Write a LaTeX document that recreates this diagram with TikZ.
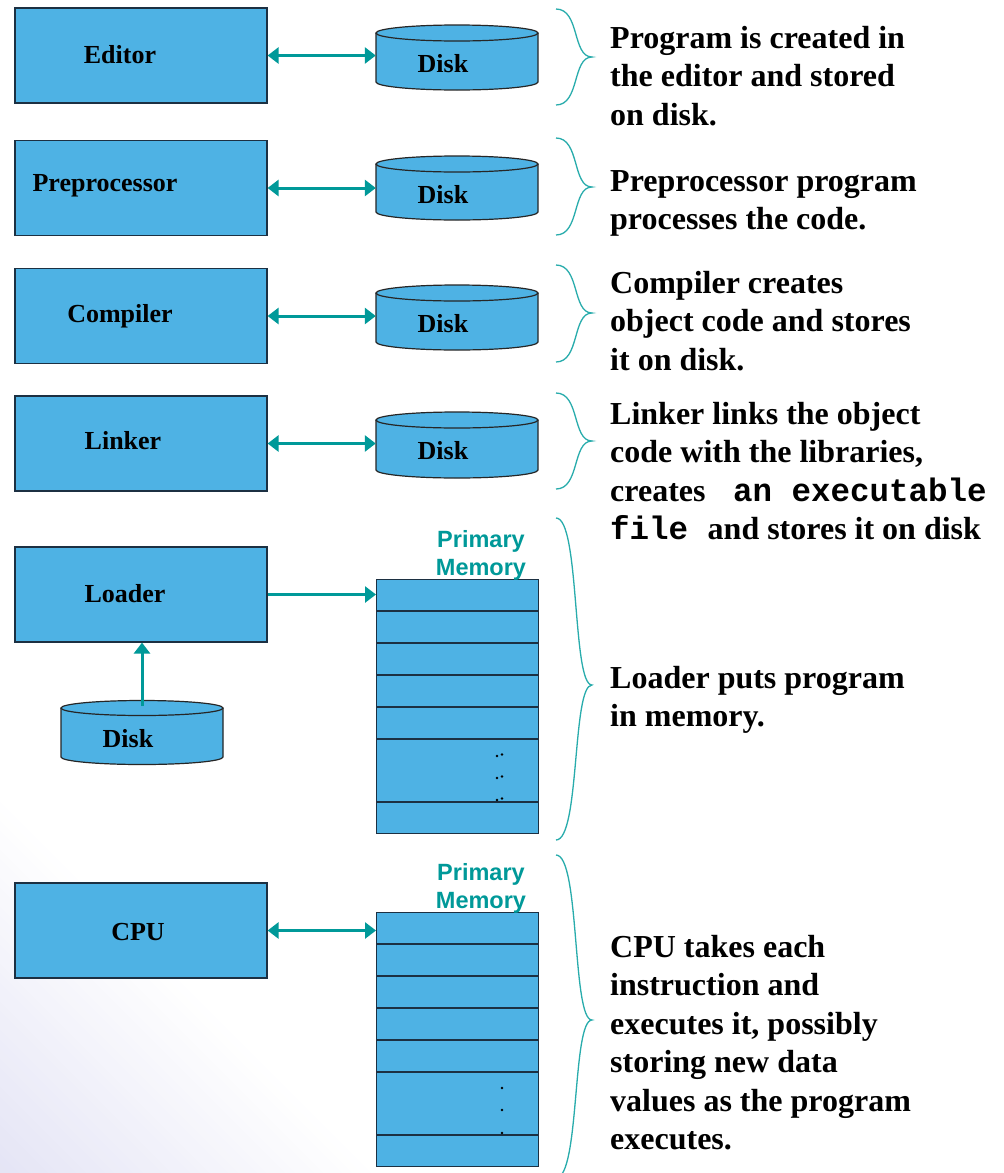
\documentclass[tikz,border=0pt]{standalone}
\usepackage{fontspec}
\setmainfont{Liberation Serif}
\newfontfamily\lsans{Liberation Sans}
\newfontfamily\lmono{Liberation Mono}
\usetikzlibrary{arrows.meta}
\definecolor{boxblue}{RGB}{78,178,228}
\definecolor{tealc}{RGB}{0,153,153}
\definecolor{bracecol}{RGB}{40,172,172}
\definecolor{edgec}{RGB}{28,48,66}
\definecolor{lav}{RGB}{228,228,245}
\newcommand\drawdisk[4]{%
  \fill[boxblue] (#1-81,#2) -- (#1-81,#3) .. controls (#1-81,#3+0.5523*#4) and (#1-44.74,#3+#4) .. (#1,#3+#4) .. controls (#1+44.74,#3+#4) and (#1+81,#3+0.5523*#4) .. (#1+81,#3) -- (#1+81,#2) -- cycle;
  \draw[diskline] (#1-81,#2) -- (#1-81,#3) .. controls (#1-81,#3+0.5523*#4) and (#1-44.74,#3+#4) .. (#1,#3+#4) .. controls (#1+44.74,#3+#4) and (#1+81,#3+0.5523*#4) .. (#1+81,#3) -- (#1+81,#2);
  \filldraw[diskline, fill=boxblue] (#1,#2) ellipse [x radius=81, y radius=#4];
}
\newcommand\curlybr[3]{%
  \draw[brc] (556,#1) .. controls (580,#1) and (572,#2) .. (592,#2) .. controls (572,#2) and (580,#3) .. (556,#3);
}
\tikzset{
  box/.style={draw=edgec, line width=1.2pt, fill=boxblue, minimum width=252pt, minimum height=95pt, inner sep=0},
  lbl/.style={font=\fontsize{26}{30}\selectfont\bfseries, inner sep=0},
  desc/.style={font=\fontsize{32}{38.5}\selectfont\bfseries, align=left, anchor=north west, inner sep=0},
  diskline/.style={draw=black!85, line width=1.2pt},
  hold/.style={inner sep=0, minimum width=162pt, minimum height=60pt},
  arr/.style={tealc, line width=3pt, -{Triangle[length=11pt,width=16pt]}},
  darr/.style={tealc, line width=3pt, {Triangle[length=11pt,width=16pt]}-{Triangle[length=11pt,width=16pt]}},
  pm/.style={font=\fontsize{23.5}{28}\selectfont\lsans\bfseries, text=tealc, align=center, inner sep=0},
  brc/.style={bracecol, line width=1.3pt},
  memst/.style={draw=edgec, line width=1.2pt, fill=boxblue, minimum width=162pt, inner sep=0, anchor=north west},
  memline/.style={edgec, line width=1.2pt},
  dot/.style={black}
}
\begin{document}
\begin{tikzpicture}[x=1pt,y=-1pt]
\useasboundingbox (0,0) rectangle (1004,1173);
\fill[white] (0,0) rectangle (1004,1173);
% background tint lower left
\foreach \i in {40,39,...,1}{
  \pgfmathsetmacro\dd{\i*9.5}
  \pgfmathsetmacro\pp{100-\i*2.5}
  \fill[lav!\pp!white] (0,1173) -- (0,1173-\dd) -- (\dd,1173) -- cycle;
}
% boxes
\node[box] (editor) at (141,55.5) {};
\node[box] (prep) at (141,188) {};
\node[box] (comp) at (141,316) {};
\node[box] (link) at (141,443.5) {};
\node[box] (load) at (141,594.5) {};
\node[box] (cpu) at (141,930.5) {};
\node[lbl] (editort) at (120,55) {Editor};
\node[lbl] (prept) at (105,186) {Preprocessor};
\node[lbl] (compt) at (120,316) {Compiler};
\node[lbl] (linkt) at (123,441) {Linker};
\node[lbl] (loadt) at (125,594) {Loader};
\node[lbl] (cput) at (138,932) {CPU};
% disks
\drawdisk{457}{33}{82}{8}
\drawdisk{457}{164}{212}{8}
\drawdisk{457}{293}{342}{8}
\drawdisk{457}{420}{470}{8}
\drawdisk{142}{708}{757}{7.5}
\node[hold] (d1) at (457,57) {};
\node[hold] (d2) at (457,188) {};
\node[hold] (d3) at (457,316) {};
\node[hold] (d4) at (457,443) {};
\coordinate (d5top) at (142,706);
\node[lbl] (d1t) at (443,63.5) {Disk};
\node[lbl] (d2t) at (443,194.5) {Disk};
\node[lbl] (d3t) at (443,323.5) {Disk};
\node[lbl] (d4t) at (443,450.5) {Disk};
\node[lbl] (d5t) at (128,738.5) {Disk};
% memories
\node[memst, minimum height=254pt] (mem1) at (376,579) {};
\foreach \yy in {611,643,675,707,739,802}
  \draw[memline] (376,\yy) -- (538,\yy);
\node[memst, minimum height=254pt] (mem2) at (376,912) {};
\foreach \yy in {944,976,1008,1040,1072,1135}
  \draw[memline] (376,\yy) -- (538,\yy);
\foreach \yy in {756,778,800}{
  \fill[dot] (497,\yy) circle (1.4pt);
  \fill[dot] (502,\yy-1.5) circle (1.4pt);
}
\foreach \yy in {1088,1110,1133}
  \fill[dot] (502,\yy) circle (1.4pt);
\node[pm] (pm1) at (481,555) {Primary\\Memory};
\node[pm] (pm2) at (481,888) {Primary\\Memory};
% arrows
\draw[darr] (editor.east) -- (editor.east -| d1.west);
\draw[darr] (prep.east) -- (prep.east -| d2.west);
\draw[darr] (comp.east) -- (comp.east -| d3.west);
\draw[darr] (link.east) -- (link.east -| d4.west);
\draw[arr] (load.east) -- (load.east -| mem1.west);
\draw[arr] (d5top) -- (d5top |- load.south);
\draw[darr] (cpu.east) -- (cpu.east -| mem2.west);
% braces
\curlybr{9}{57}{105}
\curlybr{138}{187}{235}
\curlybr{265}{313}{362}
\curlybr{393}{441}{489}
\curlybr{518}{685}{840}
\curlybr{855}{1020}{1178}
% descriptions
\node[desc] (t1) at (610,26) {Program is created in\\the editor and stored\\on disk.};
\node[desc] (t2) at (610,170) {Preprocessor program\\processes the code.};
\node[desc] (t3) at (610,271) {Compiler creates\\object code and stores\\it on disk.};
\node[desc] (t4) at (610,402) {Linker links the object\\code with the libraries,\\creates {\lmono\bfseries\fontsize{32.5}{38.5}\selectfont\ an executable}\\{\lmono\bfseries\fontsize{32.5}{38.5}\selectfont file\ }and stores it on disk};
\node[desc] (t5) at (610,666) {Loader puts program\\in memory.};
\node[desc] (t6) at (610,935) {CPU takes each\\instruction and\\executes it, possibly\\storing new data\\values as the program\\executes.};
\end{tikzpicture}
\end{document}
